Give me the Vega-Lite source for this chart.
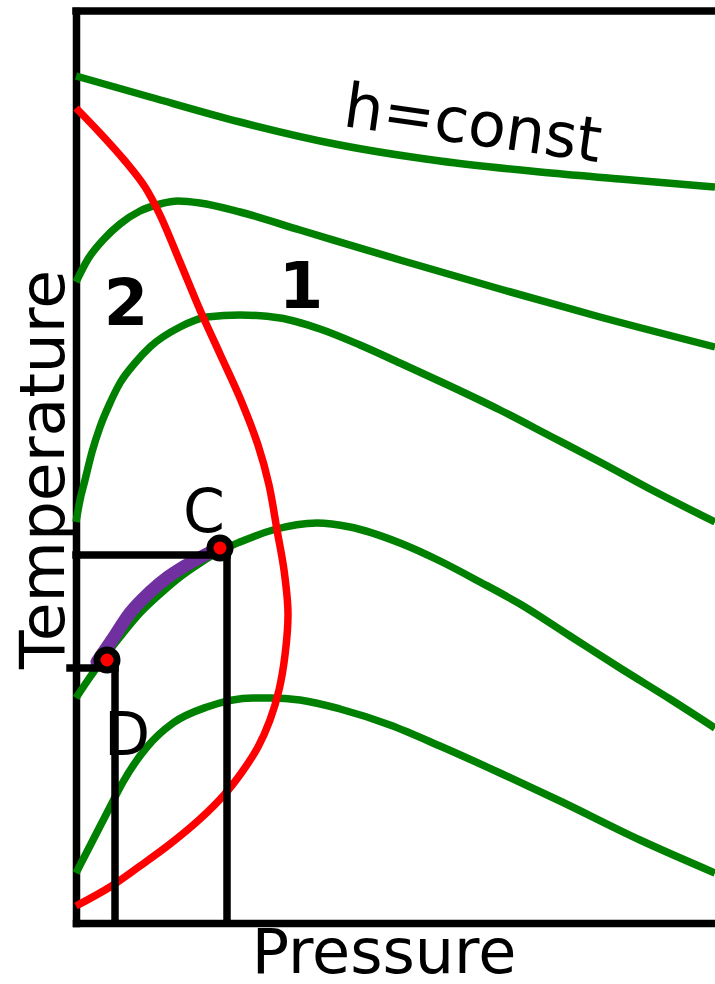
{
  "$schema": "https://vega.github.io/schema/vega-lite/v6.json",
  "width": 639,
  "height": 912,
  "autosize": {"type": "none"},
  "padding": {"left": 76, "top": 11, "right": 0, "bottom": 61},
  "background": "white",
  "config": {
    "view": {"stroke": null},
    "font": "DejaVu Sans",
    "axis": {
      "domain": true,
      "domainColor": "black",
      "domainWidth": 7.5,
      "domainCap": "square",
      "ticks": false,
      "labels": false,
      "grid": false,
      "titleFont": "DejaVu Sans",
      "titleFontSize": 62,
      "titleFontWeight": "normal",
      "titleColor": "black"
    }
  },
  "datasets": {
    "isenthalps": [
      {"curve": "h1", "p": 0, "t": 847}, {"curve": "h1", "p": 74, "t": 826}, {"curve": "h1", "p": 164, "t": 801},
      {"curve": "h1", "p": 264, "t": 778}, {"curve": "h1", "p": 364, "t": 762}, {"curve": "h1", "p": 464, "t": 751},
      {"curve": "h1", "p": 544, "t": 744}, {"curve": "h1", "p": 639, "t": 736},

      {"curve": "h2", "p": 0, "t": 641}, {"curve": "h2", "p": 12, "t": 664}, {"curve": "h2", "p": 28, "t": 684},
      {"curve": "h2", "p": 44, "t": 699}, {"curve": "h2", "p": 64, "t": 712}, {"curve": "h2", "p": 84, "t": 719},
      {"curve": "h2", "p": 102, "t": 722}, {"curve": "h2", "p": 124, "t": 720}, {"curve": "h2", "p": 164, "t": 711},
      {"curve": "h2", "p": 224, "t": 693}, {"curve": "h2", "p": 324, "t": 663}, {"curve": "h2", "p": 424, "t": 634},
      {"curve": "h2", "p": 524, "t": 606}, {"curve": "h2", "p": 639, "t": 576},

      {"curve": "h3", "p": 0, "t": 401}, {"curve": "h3", "p": 4, "t": 423}, {"curve": "h3", "p": 9, "t": 443},
      {"curve": "h3", "p": 16, "t": 471}, {"curve": "h3", "p": 24, "t": 496}, {"curve": "h3", "p": 34, "t": 520},
      {"curve": "h3", "p": 44, "t": 540}, {"curve": "h3", "p": 59, "t": 560}, {"curve": "h3", "p": 74, "t": 576},
      {"curve": "h3", "p": 104, "t": 596}, {"curve": "h3", "p": 131, "t": 606}, {"curve": "h3", "p": 164, "t": 608},
      {"curve": "h3", "p": 204, "t": 605}, {"curve": "h3", "p": 244, "t": 594}, {"curve": "h3", "p": 284, "t": 578},
      {"curve": "h3", "p": 324, "t": 560}, {"curve": "h3", "p": 374, "t": 537}, {"curve": "h3", "p": 424, "t": 513},
      {"curve": "h3", "p": 474, "t": 487}, {"curve": "h3", "p": 524, "t": 461}, {"curve": "h3", "p": 574, "t": 434},
      {"curve": "h3", "p": 639, "t": 401},

      {"curve": "h4", "p": 0, "t": 225}, {"curve": "h4", "p": 12, "t": 243}, {"curve": "h4", "p": 24, "t": 260},
      {"curve": "h4", "p": 44, "t": 286}, {"curve": "h4", "p": 64, "t": 310}, {"curve": "h4", "p": 84, "t": 329},
      {"curve": "h4", "p": 104, "t": 346}, {"curve": "h4", "p": 124, "t": 360}, {"curve": "h4", "p": 144, "t": 372},
      {"curve": "h4", "p": 164, "t": 381}, {"curve": "h4", "p": 197, "t": 393}, {"curve": "h4", "p": 241, "t": 400},
      {"curve": "h4", "p": 274, "t": 396}, {"curve": "h4", "p": 324, "t": 380}, {"curve": "h4", "p": 364, "t": 362},
      {"curve": "h4", "p": 404, "t": 341}, {"curve": "h4", "p": 444, "t": 319}, {"curve": "h4", "p": 494, "t": 287},
      {"curve": "h4", "p": 544, "t": 255}, {"curve": "h4", "p": 594, "t": 224}, {"curve": "h4", "p": 639, "t": 195},

      {"curve": "h5", "p": 0, "t": 50}, {"curve": "h5", "p": 17, "t": 83}, {"curve": "h5", "p": 34, "t": 116},
      {"curve": "h5", "p": 47, "t": 141}, {"curve": "h5", "p": 71, "t": 176}, {"curve": "h5", "p": 97, "t": 200},
      {"curve": "h5", "p": 131, "t": 216}, {"curve": "h5", "p": 177, "t": 225}, {"curve": "h5", "p": 194, "t": 225},
      {"curve": "h5", "p": 224, "t": 223}, {"curve": "h5", "p": 264, "t": 214}, {"curve": "h5", "p": 314, "t": 198},
      {"curve": "h5", "p": 364, "t": 177}, {"curve": "h5", "p": 424, "t": 150}, {"curve": "h5", "p": 484, "t": 122},
      {"curve": "h5", "p": 564, "t": 83}, {"curve": "h5", "p": 639, "t": 50}
    ],
    "inversion": [
      {"i": 0, "p": 0, "t": 815}, {"i": 1, "p": 24, "t": 790}, {"i": 2, "p": 49, "t": 762},
      {"i": 3, "p": 69, "t": 736}, {"i": 4, "p": 84, "t": 708}, {"i": 5, "p": 104, "t": 661},
      {"i": 6, "p": 124, "t": 613}, {"i": 7, "p": 144, "t": 569}, {"i": 8, "p": 164, "t": 525},
      {"i": 9, "p": 182, "t": 478}, {"i": 10, "p": 193, "t": 438}, {"i": 11, "p": 201, "t": 393},
      {"i": 12, "p": 208, "t": 353}, {"i": 13, "p": 212, "t": 310}, {"i": 14, "p": 209, "t": 268},
      {"i": 15, "p": 203, "t": 233}, {"i": 16, "p": 194, "t": 203}, {"i": 17, "p": 182, "t": 176},
      {"i": 18, "p": 166, "t": 151}, {"i": 19, "p": 148, "t": 128}, {"i": 20, "p": 124, "t": 104},
      {"i": 21, "p": 94, "t": 79}, {"i": 22, "p": 64, "t": 57}, {"i": 23, "p": 34, "t": 36},
      {"i": 24, "p": 0, "t": 17}
    ],
    "expansion": [
      {"p": 21, "t": 261}, {"p": 36, "t": 283}, {"p": 54, "t": 310}, {"p": 74, "t": 331},
      {"p": 92, "t": 346}, {"p": 114, "t": 360}, {"p": 139, "t": 373}
    ],
    "guides": [
      {"name": "top", "p": 0, "t": 912, "p2": 639, "t2": 912},
      {"name": "C-level", "p": 0, "t": 368, "p2": 151, "t2": 368},
      {"name": "C-drop", "p": 151, "t": 368, "p2": 151, "t2": 0},
      {"name": "D-level", "p": -6, "t": 255, "p2": 39, "t2": 255},
      {"name": "D-drop", "p": 39, "t": 255, "p2": 39, "t2": 0}
    ],
    "states": [
      {"name": "C", "p": 144, "t": 375},
      {"name": "D", "p": 31, "t": 263}
    ],
    "stateLabels": [
      {"label": "C", "p": 128, "t": 391},
      {"label": "D", "p": 51, "t": 168}
    ],
    "regions": [
      {"label": "2", "p": 50, "t": 598},
      {"label": "1", "p": 225, "t": 615}
    ],
    "curveNote": [
      {"label": "h=const", "p": 394, "t": 779}
    ]
  },
  "encoding": {
    "x": {
      "field": "p",
      "type": "quantitative",
      "scale": {"domain": [0, 639], "nice": false, "zero": false},
      "axis": {
        "title": "Pressure",
        "titleX": 307.5,
        "titleY": 49,
        "titleAlign": "center",
        "titleBaseline": "alphabetic"
      }
    },
    "y": {
      "field": "t",
      "type": "quantitative",
      "scale": {"domain": [0, 912], "nice": false, "zero": false},
      "axis": {
        "title": "Temperature",
        "titleFontSize": 63,
        "titleX": -13,
        "titleY": 458,
        "titleAngle": 270,
        "titleAlign": "center",
        "titleBaseline": "alphabetic"
      }
    }
  },
  "layer": [
    {
      "data": {"name": "isenthalps"},
      "mark": {"type": "line", "color": "#008000", "strokeWidth": 7.5, "interpolate": "monotone"},
      "encoding": {"detail": {"field": "curve"}}
    },
    {
      "data": {"name": "inversion"},
      "mark": {"type": "line", "color": "#ff0000", "strokeWidth": 7.5, "interpolate": "catmull-rom"},
      "encoding": {"order": {"field": "i", "type": "quantitative"}}
    },
    {
      "data": {"name": "expansion"},
      "mark": {"type": "line", "color": "#7030a0", "strokeWidth": 13, "strokeCap": "round", "interpolate": "monotone"},
      "encoding": {}
    },
    {
      "data": {"name": "guides"},
      "mark": {"type": "rule", "color": "black", "strokeWidth": 7.5, "strokeCap": "square"},
      "encoding": {
        "x2": {"field": "p2"},
        "y2": {"field": "t2"}
      }
    },
    {
      "data": {"name": "states"},
      "mark": {"type": "point", "shape": "circle", "filled": false, "fill": "#ff0000", "fillOpacity": 1, "stroke": "black", "strokeWidth": 7, "size": 400, "opacity": 1}
    },
    {
      "data": {"name": "stateLabels"},
      "mark": {"type": "text", "font": "DejaVu Sans", "fontSize": 60, "align": "center", "baseline": "alphabetic", "color": "black"},
      "encoding": {"text": {"field": "label"}}
    },
    {
      "data": {"name": "regions"},
      "mark": {"type": "text", "font": "DejaVu Sans", "fontSize": 64, "fontWeight": "bold", "align": "center", "baseline": "alphabetic", "color": "black"},
      "encoding": {"text": {"field": "label"}}
    },
    {
      "data": {"name": "curveNote"},
      "mark": {"type": "text", "font": "DejaVu Sans", "fontSize": 62, "angle": 8, "align": "center", "baseline": "alphabetic", "color": "black"},
      "encoding": {"text": {"field": "label"}}
    }
  ]
}
